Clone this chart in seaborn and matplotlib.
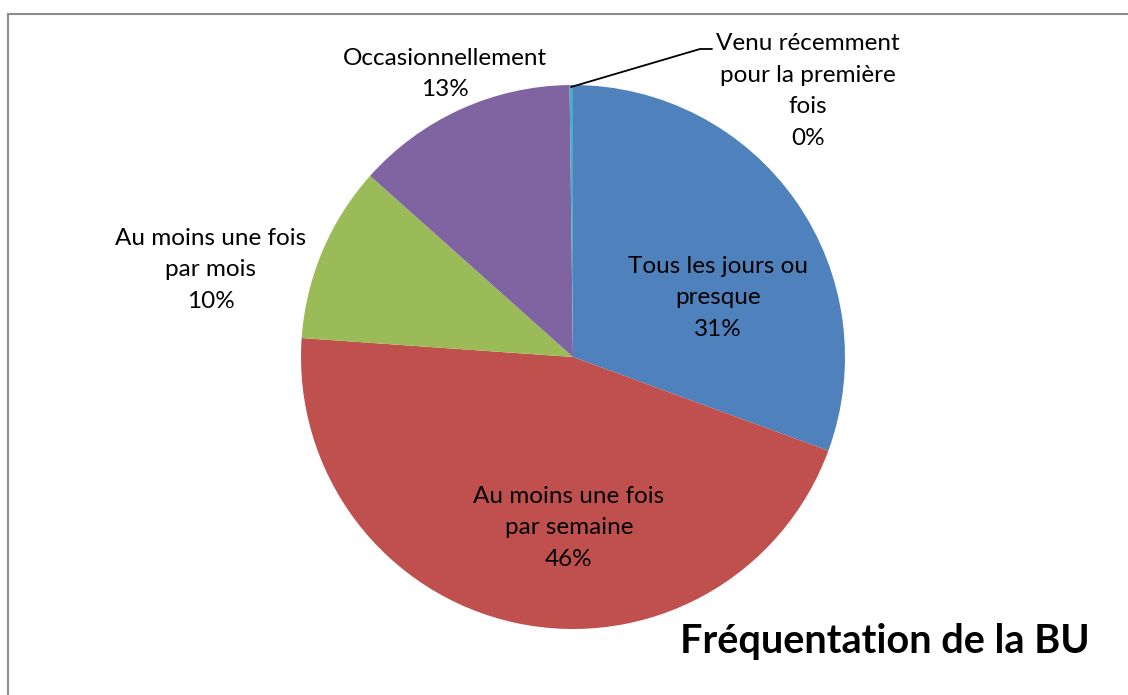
import matplotlib.pyplot as plt
import matplotlib.patches as mpatches
import seaborn as sns

# data (percent of respondents)
categories = ["Tous les jours ou\npresque", "Au moins une fois\npar semaine",
              "Au moins une fois\npar mois", "Occasionnellement",
              "Venu récemment\npour la première\nfois"]
values = [30.6, 45.51, 10.49, 13.2, 0.2]
colors = ["#4F81BD", "#C0504D", "#9BBB59", "#8064A2", "#4BACC6"]
title = "Fréquentation de la BU"

sns.set_theme(style="white")
plt.rcParams["font.family"] = ["Lato", "DejaVu Sans"]

W, H = 1128, 695
R = 272.0  # pie radius in px
cx, cy = 573, 357

fig = plt.figure(figsize=(W / 100, H / 100), dpi=100)
ax = fig.add_axes([0, 0, 1, 1])

wedges, _ = ax.pie(values, colors=sns.color_palette(colors), startangle=90,
                   counterclock=False, radius=1,
                   wedgeprops=dict(linewidth=0, antialiased=True))
ax.set_xlim(-cx / R, (W - cx) / R)
ax.set_ylim(-(H - cy) / R, cy / R)
ax.set_aspect("auto")
ax.axis("off")


def px(x, y):
    return (x - cx) / R, (cy - y) / R


# label positions in pixel space of the original chart
label_pos = [(718, 298), (569, 528), (211, 270), (445, 74), (808, 91)]
for cat, val, (lx, ly) in zip(categories, values, label_pos):
    x, y = px(lx, ly)
    ax.text(x, y, f"{cat}\n{round(val):.0f}%", ha="center", va="center",
            fontsize=17.5, color="black", linespacing=1.63)

# leader line for the tiny slice
lx0, ly0 = px(571, 87)
lx1, ly1 = px(700, 49)
lx2, ly2 = px(712, 49)
ax.plot([lx0, lx1, lx2], [ly0, ly1, ly2], color="black", lw=1.3)

fig.text(885 / W, 1 - 641 / H, title, ha="center", va="center",
         fontsize=28.5, fontweight="bold", color="black")

# outer chart border
fig.patches.append(mpatches.Rectangle((8 / W, -0.05), 1.1, 1 - 14 / H + 0.05,
                                      transform=fig.transFigure, fill=False,
                                      edgecolor="#8c8c8c", lw=1.5))

fig.savefig("out.png", dpi=100)
